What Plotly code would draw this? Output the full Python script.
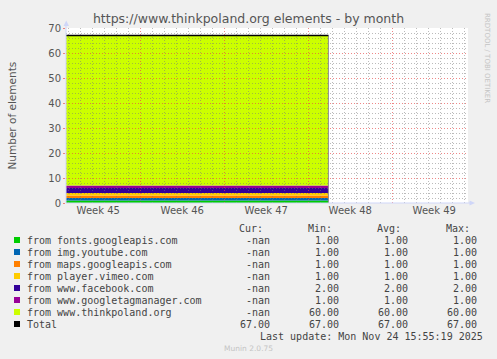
import plotly.graph_objects as go

# ---------------- data ----------------
title_text = "https://www.thinkpoland.org elements - by month"
y_title = "Number of elements"

series_names = [
    "from fonts.googleapis.com",
    "from img.youtube.com",
    "from maps.googleapis.com",
    "from player.vimeo.com",
    "from www.facebook.com",
    "from www.googletagmanager.com",
    "from www.thinkpoland.org",
]
series_colors = ["#00CC00", "#0066B3", "#FF8000", "#FFCC00", "#330099", "#990099", "#CCFF00"]
series_values = [1, 1, 1, 1, 2, 1, 60]
series_cur = ["-nan", "-nan", "-nan", "-nan", "-nan", "-nan", "-nan"]
series_min = [1.00, 1.00, 1.00, 1.00, 2.00, 1.00, 60.00]
series_avg = [1.00, 1.00, 1.00, 1.00, 2.00, 1.00, 60.00]
series_max = [1.00, 1.00, 1.00, 1.00, 2.00, 1.00, 60.00]

total_name = "Total"
total_color = "#000000"
total_value = 67
total_cur, total_min, total_avg, total_max = 67.00, 67.00, 67.00, 67.00

time_points = ["2025-11-03 00:00", "2025-11-25 16:20"]
x_range = ["2025-11-03 19:30", "2025-12-07 07:30"]
week_tick0 = "2025-11-03"
y_range = [0, 70]

header_labels = ["Cur:", "Min:", "Avg:", "Max:"]
last_update = "Last update: Mon Nov 24 15:55:19 2025"
footer_text = "Munin 2.0.75"
watermark = "RRDTOOL / TOBI OETIKER"

# ---------------- layout geometry (pixels) ----------------
W, H = 497, 359
PL, PR, PT, PB = 66, 468, 28, 203


def px_x(px):
    return (px - PL) / (PR - PL)


def px_y(py):
    return (PB - py) / (PB - PT)


FONT = "DejaVu Sans"
MONO = "DejaVu Sans Mono"
TXT = "#555555"
AXIS_C = "#CFD6F8"
MGRID = "rgba(230,70,70,0.65)"
GRID = "rgba(120,120,120,0.5)"
DASH = "1px,2px"
WEEK_MS = 7 * 24 * 3600 * 1000
DAY_MS = 24 * 3600 * 1000

fig = go.Figure()

for name, col, val in zip(series_names, series_colors, series_values):
    fig.add_trace(go.Scatter(
        x=time_points, y=[val] * len(time_points), name=name,
        mode="lines", stackgroup="one", line=dict(width=0, color=col),
        fillcolor=col, showlegend=False, hoverinfo="skip",
        xaxis="x", yaxis="y"))

# traces on the overlay subplot (drawn above the grid)
fig.add_trace(go.Scatter(
    x=[time_points[-1], time_points[-1]], y=[0, total_value], mode="lines",
    line=dict(color="#8c8c8c", width=1), showlegend=False, hoverinfo="skip",
    xaxis="x2", yaxis="y2"))

fig.add_trace(go.Scatter(
    x=time_points, y=[total_value] * len(time_points), name=total_name,
    mode="lines", line=dict(color=total_color, width=1.5), showlegend=False,
    hoverinfo="skip", xaxis="x2", yaxis="y2"))

hidden = dict(showgrid=False, zeroline=False, showline=False,
              showticklabels=False, ticks="")

fig.update_layout(
    width=W, height=H,
    margin=dict(l=PL, r=W - PR, t=PT, b=H - PB, pad=0),
    paper_bgcolor="#F0F0F0",
    plot_bgcolor="rgba(0,0,0,0)",
    showlegend=False,
    xaxis=dict(type="date", range=x_range, domain=[0, 1], anchor="y", **hidden),
    yaxis=dict(range=y_range, domain=[0, 1], anchor="x", **hidden),
    xaxis2=dict(
        type="date", range=x_range, domain=[0, 1], anchor="y2",
        tick0=week_tick0, dtick=WEEK_MS, ticklabelmode="period",
        tickformat="Week %V", showgrid=True, gridcolor=MGRID,
        griddash=DASH, gridwidth=1, zeroline=False, showline=False,
        ticks="", tickfont=dict(family=FONT, size=10, color=TXT),
        minor=dict(tick0=week_tick0, dtick=DAY_MS, showgrid=True,
                   gridcolor=GRID, griddash=DASH, gridwidth=1),
    ),
    yaxis2=dict(
        range=y_range, domain=[0, 1], anchor="x2", dtick=10,
        showgrid=True, gridcolor=MGRID, griddash=DASH, gridwidth=1,
        zeroline=False, showline=False, ticks="outside", ticklen=2,
        tickcolor=MGRID, tickfont=dict(family=FONT, size=10, color=TXT),
        minor=dict(dtick=2, showgrid=True, gridcolor=GRID,
                   griddash=DASH, gridwidth=1),
    ),
    title=dict(text=title_text, x=0.5, xref="container", xanchor="center",
               y=1 - 19 / H, yref="container", yanchor="middle",
               font=dict(family=FONT, size=12.5, color=TXT)),
)

shapes = []
# white canvas
shapes.append(dict(type="rect", xref="paper", yref="paper", x0=0, x1=1, y0=0, y1=1,
                   fillcolor="#FFFFFF", line=dict(width=0), layer="below"))
# axis lines
shapes.append(dict(type="line", xref="paper", yref="paper",
                   x0=px_x(PL), x1=px_x(PL), y0=px_y(PB), y1=px_y(24),
                   line=dict(color=AXIS_C, width=1), layer="above"))
shapes.append(dict(type="line", xref="paper", yref="paper",
                   x0=px_x(PL), x1=px_x(472), y0=px_y(PB), y1=px_y(PB),
                   line=dict(color=AXIS_C, width=1), layer="above"))
# arrows
shapes.append(dict(type="path", xref="paper", yref="paper",
                   path="M {} {} L {} {} L {} {} Z".format(
                       px_x(63.5), px_y(26), px_x(69), px_y(26), px_x(66.25), px_y(20.5)),
                   fillcolor=AXIS_C, line=dict(width=0), layer="above"))
shapes.append(dict(type="path", xref="paper", yref="paper",
                   path="M {} {} L {} {} L {} {} Z".format(
                       px_x(469.5), px_y(200.5), px_x(469.5), px_y(205.5), px_x(475), px_y(203)),
                   fillcolor=AXIS_C, line=dict(width=0), layer="above"))

ann = []


def text(t, px, py, xanchor="left", size=10, color="#444444", family=MONO, angle=0, yanchor="middle"):
    ann.append(dict(text=t, x=px_x(px), y=px_y(py), xref="paper", yref="paper",
                    xanchor=xanchor, yanchor=yanchor, showarrow=False,
                    textangle=angle, borderpad=0, borderwidth=0,
                    font=dict(family=family, size=size, color=color)))


# y axis title
text(y_title, 11, (PT + PB) / 2, xanchor="center", size=10.5, color=TXT, family=FONT, angle=-90)
# watermark
text(watermark, 487, 58, xanchor="center", size=7, color="#C4C4C4", family=FONT, angle=90)

# legend header
header_x = [263, 332, 401, 470]
for lab, hx in zip(header_labels, header_x):
    text(lab, hx, 228, xanchor="right")

col_x = [269.5, 338.5, 407.5, 476.5]
row_names = series_names + [total_name]
row_colors = series_colors + [total_color]
row_cur = series_cur + ["%.2f" % total_cur]
row_min = series_min + [total_min]
row_avg = series_avg + [total_avg]
row_max = series_max + [total_max]
for i, (nm, col) in enumerate(zip(row_names, row_colors)):
    yy = 240 + 12 * i
    shapes.append(dict(type="rect", xref="paper", yref="paper",
                       x0=px_x(14), x1=px_x(20), y0=px_y(yy + 3), y1=px_y(yy - 3),
                       fillcolor=col, line=dict(width=0), layer="above"))
    text(nm, 27, yy)
    vals = [row_cur[i], "%.2f" % row_min[i], "%.2f" % row_avg[i], "%.2f" % row_max[i]]
    for v, cx in zip(vals, col_x):
        text(v, cx, yy, xanchor="right")

text(last_update, 483, 336, xanchor="right")
text(footer_text, 248, 348, xanchor="center", size=7.5, color="#C4C4C4", family=FONT)

fig.update_layout(shapes=shapes, annotations=ann)
fig.write_html("out.html")
